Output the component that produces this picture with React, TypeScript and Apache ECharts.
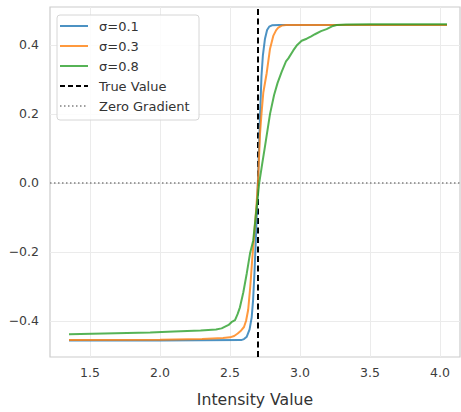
import React, { useEffect, useRef } from "react";
import * as echarts from "echarts";

const TRUE_VALUE = 2.7;
const xTicks = [1.5, 2.0, 2.5, 3.0, 3.5, 4.0];
const yTicks = [-0.4, -0.2, 0.0, 0.2, 0.4];

const sigma01: [number, number][] = [
  [1.35, -0.457], [2.0, -0.457], [2.58, -0.456], [2.6, -0.453], [2.62, -0.446],
  [2.64, -0.425], [2.655, -0.39], [2.665, -0.34], [2.675, -0.26], [2.685, -0.16],
  [2.695, -0.05], [2.705, 0.07], [2.715, 0.2], [2.725, 0.31], [2.735, 0.37],
  [2.75, 0.418], [2.765, 0.443], [2.78, 0.453], [2.8, 0.457], [2.85, 0.458], [4.05, 0.458],
];

const sigma03: [number, number][] = [
  [1.35, -0.456], [2.0, -0.455], [2.3, -0.453], [2.45, -0.45], [2.5, -0.448],
  [2.53, -0.444], [2.555, -0.437], [2.58, -0.428], [2.6, -0.418], [2.615, -0.4],
  [2.63, -0.368], [2.645, -0.3], [2.66, -0.215], [2.675, -0.14], [2.69, -0.06],
  [2.7, 0.0], [2.714, 0.14], [2.725, 0.2], [2.738, 0.262], [2.762, 0.318],
  [2.786, 0.389], [2.81, 0.427], [2.83, 0.443], [2.845, 0.45], [2.87, 0.456],
  [2.9, 0.458], [4.05, 0.458],
];

const sigma08: [number, number][] = [
  [1.35, -0.439], [1.6, -0.437], [1.93, -0.434], [2.1, -0.431], [2.29, -0.428],
  [2.4, -0.425], [2.44, -0.422], [2.465, -0.417], [2.49, -0.412], [2.51, -0.404],
  [2.536, -0.398], [2.555, -0.38], [2.571, -0.361], [2.595, -0.318], [2.62, -0.262],
  [2.643, -0.205], [2.666, -0.167], [2.688, -0.08], [2.709, 0.0], [2.73, 0.055],
  [2.75, 0.106], [2.786, 0.2], [2.815, 0.255], [2.84, 0.29], [2.869, 0.322],
  [2.9, 0.352], [2.917, 0.361], [2.952, 0.384], [2.98, 0.4], [3.012, 0.412],
  [3.03, 0.415], [3.048, 0.418], [3.08, 0.425], [3.107, 0.431], [3.15, 0.44],
  [3.19, 0.446], [3.236, 0.455], [3.262, 0.458], [3.33, 0.459], [3.5, 0.46], [4.05, 0.46],
];

const legendItems = [
  { name: "σ=0.1", color: "rgba(31,119,180,0.8)", type: "solid" },
  { name: "σ=0.3", color: "rgba(255,127,14,0.8)", type: "solid" },
  { name: "σ=0.8", color: "rgba(44,160,44,0.8)", type: "solid" },
  { name: "True Value", color: "#000000", type: "dashed" },
  { name: "Zero Gradient", color: "#808080", type: "dotted" },
];

const X_MIN = 1.2143;
const X_MAX = 4.143;
const Y_MIN = -0.505;
const Y_MAX = 0.51;
const FONT = "DejaVu Sans";

function fmt(v: number) {
  return v.toFixed(1).replace("-", "\u2212");
}

export default function App() {
  const ref = useRef<HTMLDivElement>(null);
  useEffect(() => {
    if (!ref.current) return;
    const chart = echarts.init(ref.current, null, { renderer: "svg" });
    const gridColor = "#ebebeb";
    const lineSeries = [sigma01, sigma03, sigma08].map((d, i) => ({
      type: "line",
      name: legendItems[i].name,
      data: d,
      showSymbol: false,
      symbol: "none",
      smooth: false,
      lineStyle: { color: legendItems[i].color, width: 2 },
      z: 5,
    }));

    const legendGraphics: any[] = [
      {
        type: "rect",
        shape: { x: 57, y: 15, width: 142, height: 105, r: 3 },
        style: { fill: "rgba(255,255,255,0.85)", stroke: "#d6d6d6", lineWidth: 1 },
        z: 100,
      },
    ];
    legendItems.forEach((it, i) => {
      const y = 26 + i * 20;
      legendGraphics.push({
        type: "line",
        shape: { x1: 60, y1: y, x2: 88, y2: y },
        style: {
          stroke: it.color,
          lineWidth: it.type === "solid" ? 2 : it.type === "dashed" ? 2 : 1.5,
          lineDash: it.type === "dashed" ? [5, 3] : it.type === "dotted" ? [1.5, 2.5] : null,
        },
        z: 101,
      });
      legendGraphics.push({
        type: "text",
        x: 99,
        y: y,
        style: {
          text: it.name,
          font: `13px "${FONT}"`,
          fill: "#333333",
          verticalAlign: "middle",
        },
        z: 101,
      });
    });

    chart.setOption({
      animation: false,
      backgroundColor: "#ffffff",
      grid: {
        left: 50,
        right: 1,
        top: 7,
        bottom: 46,
        show: true,
        borderColor: "#cccccc",
        borderWidth: 1.2,
        containLabel: false,
      },
      xAxis: {
        type: "value",
        min: X_MIN,
        max: X_MAX,
        name: "Intensity Value",
        nameLocation: "middle",
        nameGap: 34,
        nameTextStyle: { fontFamily: FONT, fontSize: 15.7, color: "#333333" },
        axisLine: { show: false },
        axisTick: { show: false },
        splitLine: { show: false },
        axisLabel: {
          customValues: xTicks,
          formatter: (v: number) => fmt(v),
          fontFamily: FONT,
          fontSize: 12.5,
          color: "#3c3c3c",
          margin: 9,
        },
      },
      yAxis: {
        type: "value",
        min: Y_MIN,
        max: Y_MAX,
        axisLine: { show: false },
        axisTick: { show: false },
        splitLine: { show: false },
        axisLabel: {
          customValues: yTicks,
          formatter: (v: number) => fmt(v),
          fontFamily: FONT,
          fontSize: 12.5,
          color: "#3c3c3c",
          margin: 11,
        },
      },
      series: [
        {
          type: "line",
          name: "grid",
          data: [],
          silent: true,
          markLine: {
            silent: true,
            symbol: "none",
            label: { show: false },
            lineStyle: { color: gridColor, width: 1, type: "solid" },
            data: [
              ...xTicks.map((v) => ({ xAxis: v })),
              ...yTicks.map((v) => ({ yAxis: v })),
            ],
          },
          z: 1,
        },
        ...lineSeries,
        {
          type: "line",
          name: "Zero Gradient",
          data: [],
          markLine: {
            silent: true,
            symbol: "none",
            label: { show: false },
            lineStyle: { color: "#808080", width: 1.5, type: [1.5, 2.5] },
            data: [{ yAxis: 0 }],
          },
          z: 6,
        },
        {
          type: "line",
          name: "True Value",
          data: [],
          markLine: {
            silent: true,
            symbol: "none",
            label: { show: false },
            lineStyle: { color: "#000000", width: 2, type: [6, 3.5] },
            data: [{ xAxis: TRUE_VALUE }],
          },
          z: 7,
        },
      ],
      graphic: legendGraphics,
    });
    return () => chart.dispose();
  }, []);
  return <div ref={ref} style={{ width: 461, height: 412, position: "absolute", left: 0, top: 0 }} />;
}
